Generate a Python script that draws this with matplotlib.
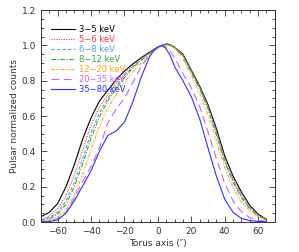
import numpy as np
import matplotlib
matplotlib.use("Agg")
import matplotlib.pyplot as plt
from matplotlib.ticker import MultipleLocator

# torus axis positions (arcsec)
torus_x = [-70, -65, -60, -55, -50, -45, -40, -35, -30, -25, -20, -15, -10, -5, -2.5,
           0, 2.5, 5, 7.5, 10, 15, 20, 25, 30, 35, 40, 45, 50, 55, 60, 65]

# pulsar normalized counts per band
band_3_5 = [0.03, 0.055, 0.105, 0.2, 0.325, 0.47, 0.59, 0.685, 0.745, 0.805, 0.855, 0.895, 0.93, 0.962, 0.977,
            0.99, 1.0, 1.008, 1.003, 0.99, 0.95, 0.86, 0.77, 0.665, 0.53, 0.375, 0.26, 0.17, 0.095, 0.045, 0.015]
band_5_6 = [0.015, 0.035, 0.075, 0.15, 0.265, 0.41, 0.55, 0.65, 0.72, 0.785, 0.84, 0.885, 0.925, 0.96, 0.976,
            0.99, 1.0, 1.008, 1.002, 0.99, 0.945, 0.855, 0.765, 0.655, 0.515, 0.36, 0.245, 0.155, 0.087, 0.04, 0.014]
band_6_8 = [0.01, 0.025, 0.055, 0.12, 0.225, 0.36, 0.505, 0.62, 0.7, 0.77, 0.83, 0.878, 0.92, 0.958, 0.975,
            0.99, 1.0, 1.007, 1.001, 0.99, 0.943, 0.852, 0.76, 0.648, 0.505, 0.35, 0.235, 0.145, 0.08, 0.037, 0.013]
band_8_12 = [0.008, 0.02, 0.045, 0.1, 0.2, 0.33, 0.475, 0.595, 0.685, 0.755, 0.82, 0.872, 0.915, 0.955, 0.973,
             0.988, 0.999, 1.006, 1.0, 0.988, 0.94, 0.848, 0.755, 0.64, 0.495, 0.34, 0.225, 0.138, 0.075, 0.035, 0.012]
band_12_20 = [0.005, 0.012, 0.03, 0.07, 0.15, 0.27, 0.41, 0.54, 0.645, 0.72, 0.79, 0.85, 0.9, 0.945, 0.967,
              0.985, 0.995, 1.0, 0.996, 0.985, 0.925, 0.83, 0.73, 0.605, 0.46, 0.31, 0.195, 0.115, 0.062, 0.03, 0.01]
band_20_35 = [0.002, 0.006, 0.02, 0.055, 0.135, 0.23, 0.315, 0.42, 0.56, 0.64, 0.7, 0.79, 0.88, 0.945, 0.972,
              0.99, 1.0, 0.99, 0.965, 0.93, 0.84, 0.76, 0.655, 0.51, 0.36, 0.22, 0.12, 0.058, 0.025, 0.01, 0.004]
band_35_80 = [0.0, 0.002, 0.012, 0.05, 0.12, 0.205, 0.29, 0.4, 0.49, 0.515, 0.565, 0.68, 0.82, 0.935, 0.97,
              0.99, 1.0, 0.98, 0.94, 0.88, 0.8, 0.71, 0.585, 0.42, 0.26, 0.13, 0.055, 0.02, 0.008, 0.003, 0.001]

bands = [band_3_5, band_5_6, band_6_8, band_8_12, band_12_20, band_20_35, band_35_80]
labels = ["3\u22125 keV", "5\u22126 keV", "6\u22128 keV", "8\u221212 keV",
          "12\u221220 keV", "20\u221235 keV", "35\u221280 keV"]
colors = ["#000000", "#ff3b3b", "#5f9fd8", "#3fa33f", "#ffa726", "#c566ff", "#3030ff"]
styles = ["-", (0, (1, 1.2)), (0, (3, 2)), (0, (4, 1.5, 1, 1.5)),
          (0, (3, 1.2, 1, 1.2, 1, 1.2)), (0, (7, 4)), "-"]

fig = plt.figure(figsize=(2.99, 2.52), dpi=100)
ax = fig.add_axes([0.137, 0.119, 0.782, 0.841])

for vals, lab, c, ls in zip(bands, labels, colors, styles):
    ax.plot(torus_x, vals, color=c, linestyle=ls, linewidth=0.8, label=lab)

ax.set_xlim(-70, 70)
ax.set_ylim(0, 1.2)
ax.xaxis.set_major_locator(MultipleLocator(20))
ax.xaxis.set_minor_locator(MultipleLocator(5))
ax.yaxis.set_major_locator(MultipleLocator(0.2))
ax.yaxis.set_minor_locator(MultipleLocator(0.05))
ax.yaxis.set_major_formatter(plt.FuncFormatter(lambda v, p: f"{v:.1f}"))
ax.tick_params(which="both", direction="in", top=True, right=True,
               labelsize=6.5, width=0.6, colors="#333333")
ax.tick_params(which="major", length=4.5)
ax.tick_params(which="minor", length=2)
for s in ax.spines.values():
    s.set_linewidth(0.7)
    s.set_color("#333333")

ax.set_xlabel("Torus axis (\u2033)", fontsize=6.5, color="#333333", labelpad=2)
ax.set_ylabel("Pulsar normalized counts", fontsize=6.5, color="#333333", labelpad=2)

ax.legend(loc="upper left", bbox_to_anchor=(0.02, 0.955), frameon=False, fontsize=6,
          labelcolor="linecolor", handlelength=2.9, handletextpad=0.45,
          labelspacing=0.12, borderaxespad=0.2)

fig.savefig("out.png", dpi=100)
